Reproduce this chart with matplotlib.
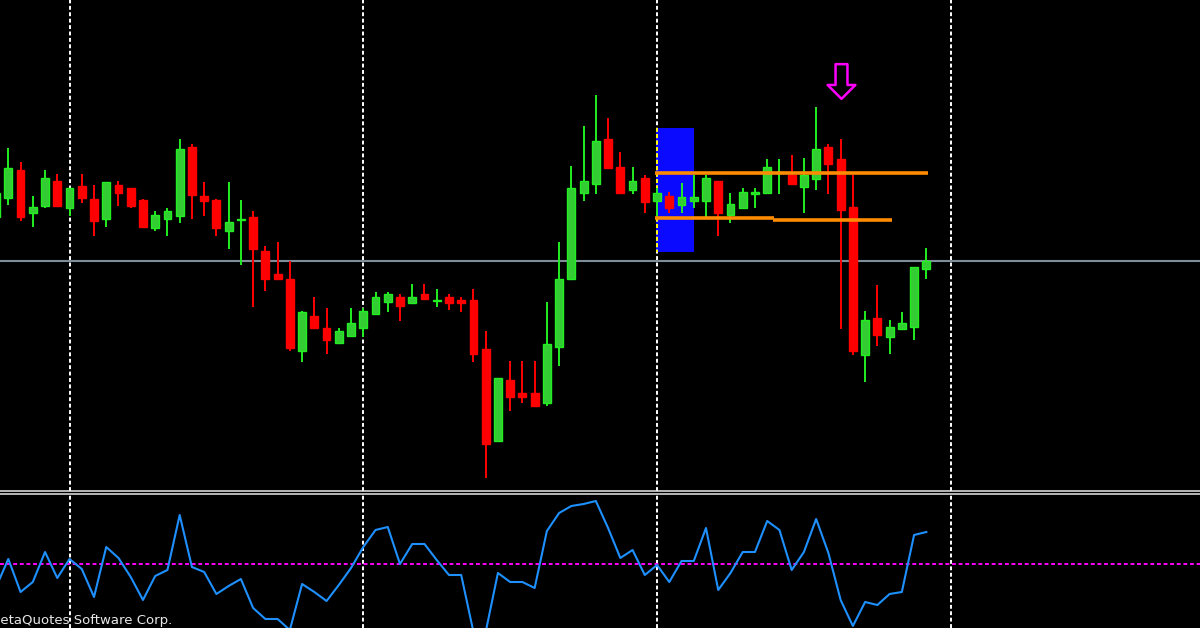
import numpy as np
import matplotlib.pyplot as plt
from matplotlib.patches import Rectangle
from matplotlib.path import Path

# candles (price in chart units, bar index = position)
opens = [283, 302, 330, 287, 294, 319, 292, 314, 301, 281, 315, 312, 300, 272, 281, 284, 353, 304, 300, 269,
         280, 283, 249, 226, 221, 149, 184, 172, 157, 164, 172, 186, 198, 203, 197, 206, 199, 203, 200, 200,
         151, 59, 120, 107, 107, 97, 153, 221, 307, 316, 361, 333, 310, 322, 299, 304, 295, 299, 299, 319,
         285, 292, 306, 307, 327, 325, 313, 321, 353, 341, 293, 145, 182, 163, 171, 173, 231]
highs = [312, 352, 338, 304, 330, 326, 312, 326, 315, 318, 319, 312, 301, 289, 292, 361, 356, 318, 301, 318,
         300, 289, 254, 258, 239, 189, 203, 192, 172, 192, 192, 208, 208, 206, 216, 216, 211, 206, 203, 211,
         169, 122, 139, 139, 139, 198, 258, 334, 374, 405, 382, 348, 333, 325, 312, 308, 317, 325, 325, 319,
         307, 312, 312, 341, 341, 345, 342, 393, 356, 361, 325, 189, 215, 180, 188, 233, 252]
lows = [281, 295, 279, 273, 292, 294, 284, 297, 264, 273, 294, 292, 272, 269, 264, 277, 281, 284, 264, 251,
        235, 193, 209, 221, 149, 138, 172, 146, 157, 164, 163, 186, 188, 179, 197, 201, 193, 190, 188, 138,
        22, 59, 89, 97, 93, 94, 134, 220, 299, 306, 331, 306, 306, 287, 283, 287, 287, 292, 283, 264,
        277, 292, 292, 306, 306, 316, 287, 310, 306, 171, 145, 118, 154, 146, 171, 160, 221]
closes = [307, 332, 283, 293, 322, 294, 312, 302, 279, 318, 307, 294, 273, 285, 289, 351, 305, 299, 272, 278,
          281, 251, 221, 221, 152, 188, 172, 160, 169, 177, 189, 203, 206, 194, 203, 201, 200, 197, 197, 146,
          56, 122, 103, 103, 94, 156, 221, 312, 319, 359, 332, 307, 319, 298, 307, 292, 303, 303, 322, 287,
          296, 308, 308, 333, 328, 316, 325, 351, 336, 290, 149, 180, 165, 173, 177, 233, 239]

# oscillator in the lower window
osc = [-23, 5, -28, -18, 12, -14, 5, -5, -33, 17, 6, -13, -36, -12, -6, 49, -3, -8, -30, -22,
       -15, -44, -55, -55, -66, -20, -28, -37, -21, -4, 17, 34, 37, 0, 20, 20, 4, -11, -11, -68,
       -68, -9, -18, -18, -24, 33, 51, 58, 60, 63, 36, 6, 14, -11, -1, -18, 3, 3, 36, -26,
       -9, 12, 12, 43, 34, -6, 12, 45, 11, -36, -62, -38, -41, -30, -28, 29, 32]
osc_level = 0

# objects on the chart
bid_price = 239
grid_bars = [6, 30, 54, 78]
box_bars = [54, 57]
box_prices = [248, 372]
line_start = [53.83, 53.83, 63.45]
line_end = [76.17, 63.58, 73.22]
line_price = [327.3, 281.7, 280]
arrow_bar = 69
arrow_price = 419

o = np.array(opens)
h = np.array(highs)
l = np.array(lows)
c = np.array(closes)
x = np.arange(len(o))
up = c >= o

fig = plt.figure(figsize=(12, 6.28), dpi=100, facecolor='black')
ax = fig.add_axes([0, 137 / 628, 1, 491 / 628], facecolor='black')
ax2 = fig.add_axes([0, 0, 1, 134 / 628], facecolor='black')

for a in (ax, ax2):
    a.set_xlim(0.32, 98.36)
    a.set_xticks([])
    a.set_yticks([])
    for s in a.spines.values():
        s.set_visible(False)
ax.spines['bottom'].set_visible(True)
ax.spines['bottom'].set_color('#e8e8e8')
ax.spines['bottom'].set_linewidth(1.1)
ax2.spines['top'].set_visible(True)
ax2.spines['top'].set_color('#e8e8e8')
ax2.spines['top'].set_linewidth(1.1)

ax.set_ylim(9, 500)
ax2.set_ylim(-64, 70)

# blue box
box = Rectangle((box_bars[0] - 0.05, box_prices[0]), box_bars[1] - box_bars[0] + 0.05,
                box_prices[1] - box_prices[0], facecolor='#0a0aff', edgecolor='none', zorder=1)
ax.add_patch(box)

# grid separators
for g in grid_bars:
    for a in (ax, ax2):
        a.axvline(g, color='white', lw=1.4, ls=(0, (2, 1.3)), zorder=1.2)
    yl = ax.axvline(g, color='#ffff00', lw=1.4, ls=(0, (2, 1.3)), zorder=1.3)
    yl.set_clip_path(box)

ax.axhline(bid_price, color='#7f8c9c', lw=1.5, zorder=2)

# candles
ax.vlines(x[up], l[up], h[up], color='#22ee22', lw=1.4, zorder=3)
ax.vlines(x[~up], l[~up], h[~up], color='#ff0000', lw=1.4, zorder=3)
body = np.maximum(np.abs(c - o), 1.2)
ax.bar(x[up], body[up], bottom=np.minimum(o, c)[up], width=0.64,
       color='#33cc33', edgecolor='#22ee22', linewidth=1, zorder=4)
ax.bar(x[~up], body[~up], bottom=np.minimum(o, c)[~up], width=0.64,
       color='#ff0000', edgecolor='#ff0000', linewidth=1, zorder=4)

# orange levels
for x0, x1, p in zip(line_start, line_end, line_price):
    ax.plot([x0, x1], [p, p], color='#ff8c00', lw=2.6, solid_capstyle='butt', zorder=5)

# hollow down arrow (sell signal) as a custom marker
arrow_shape = Path([(-6, 17.5), (6, 17.5), (6, -3.5), (14, -3.5), (0, -17.5),
                    (-14, -3.5), (-6, -3.5), (-6, 17.5)], closed=True)
ax.plot([arrow_bar], [arrow_price], marker=arrow_shape, markersize=25,
        markerfacecolor='none', markeredgecolor='#ff00ff', markeredgewidth=1.8, zorder=6)

# lower window
ax2.axhline(osc_level, color='#ff00ff', lw=1.4, ls=(0, (2, 1.4)), zorder=2)
ax2.plot(x, osc, color='#1e90ff', lw=1.5, zorder=3)
ax2.text(-11 / 1200, 0.005, 'MetaQuotes Software Corp.', color='#e8e8e8', fontsize=9.5,
         transform=ax2.transAxes, ha='left', va='bottom', zorder=6)

fig.savefig('out.png', dpi=100, facecolor='black')
